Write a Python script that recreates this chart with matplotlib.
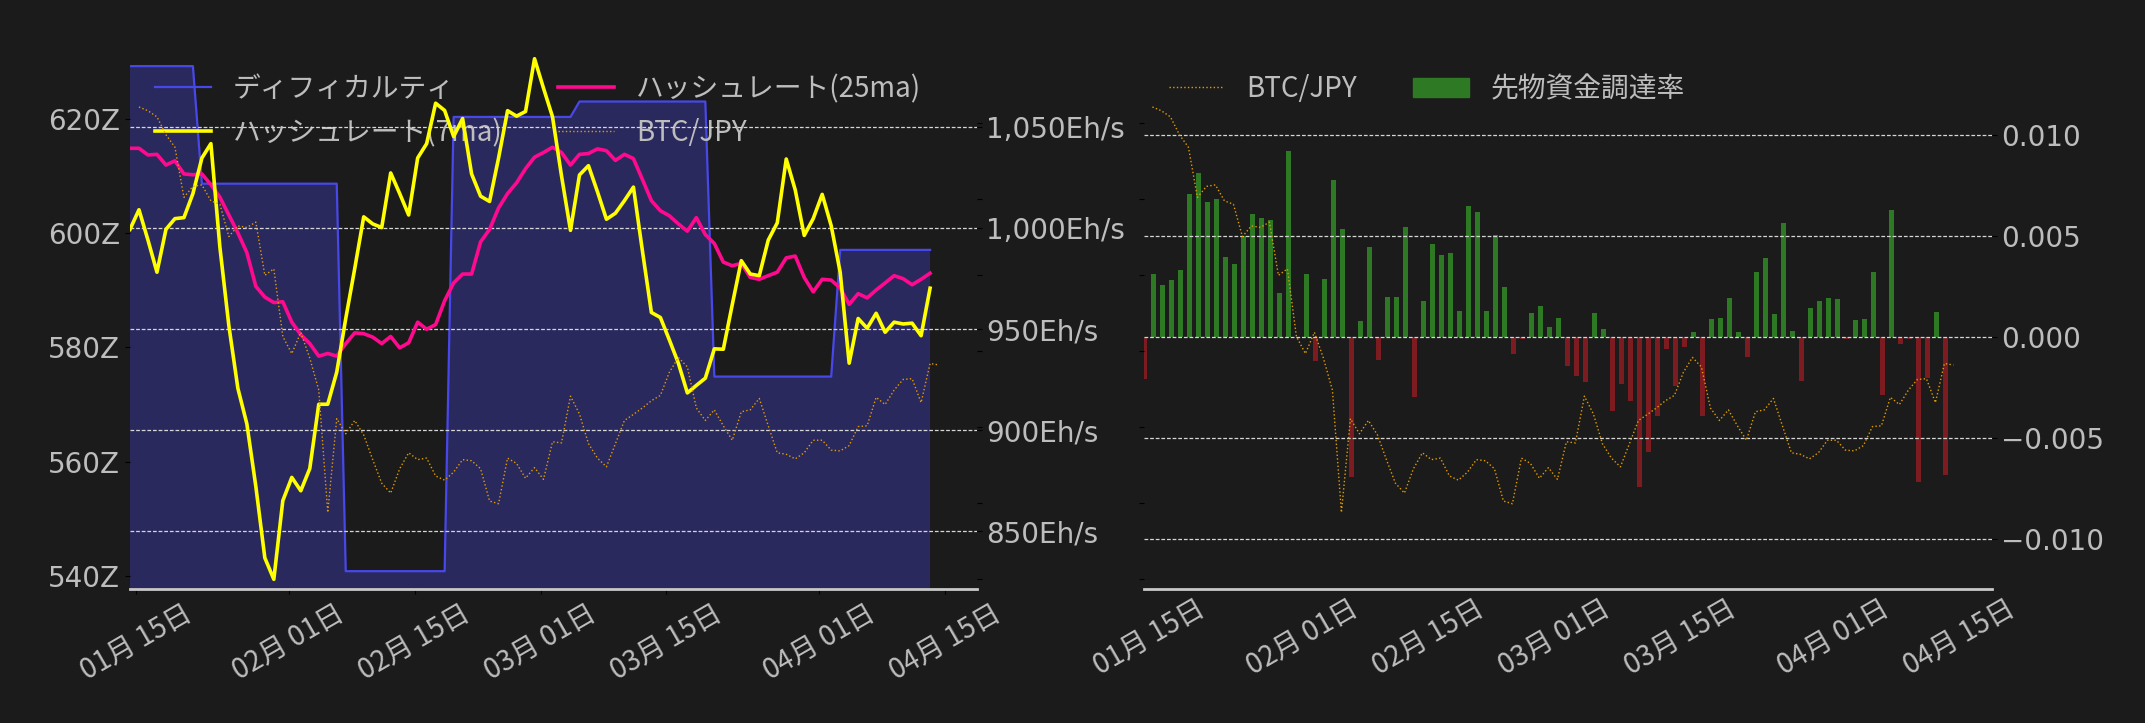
import matplotlib
matplotlib.use('Agg')
import matplotlib.pyplot as plt
import matplotlib.dates as mdates
from matplotlib.ticker import MultipleLocator, FuncFormatter
from matplotlib.patches import Patch
import pandas as pd

# y tick labels stay in DejaVu Sans, japanese text uses Noto Sans CJK JP
plt.rcParams['font.family'] = ['DejaVu Sans', 'Noto Sans CJK JP']
plt.rcParams['font.size'] = 20
JP = ['Noto Sans CJK JP', 'DejaVu Sans']

# ---- data ----
hash_dates = pd.date_range('2023-01-14 08:00', periods=90, freq='D')
btc_dates = pd.date_range('2023-01-15 08:00', periods=90, freq='D')
fr_dates = pd.date_range('2023-01-14 11:00', periods=90, freq='D')

# difficulty (Z)
difficulty = [
    629.3, 629.3, 629.3, 629.3, 629.3, 629.3, 629.3, 629.3,
    608.7, 608.7, 608.7, 608.7, 608.7, 608.7, 608.7, 608.7,
    608.7, 608.7, 608.7, 608.7, 608.7, 608.7, 608.7, 608.7,
    540.8, 540.8, 540.8, 540.8, 540.8, 540.8, 540.8, 540.8, 540.8, 540.8, 540.8, 540.8,
    620.4, 620.4, 620.4, 620.4, 620.4, 620.4, 620.4, 620.4, 620.4, 620.4, 620.4, 620.4, 620.4, 620.4,
    623.1, 623.1, 623.1, 623.1, 623.1, 623.1, 623.1, 623.1, 623.1, 623.1, 623.1, 623.1, 623.1, 623.1, 623.1,
    574.9, 574.9, 574.9, 574.9, 574.9, 574.9, 574.9, 574.9, 574.9, 574.9, 574.9, 574.9, 574.9, 574.9,
    597.1, 597.1, 597.1, 597.1, 597.1, 597.1, 597.1, 597.1, 597.1, 597.1, 597.1,
]

# hashrate, 7 day moving average (Eh/s)
hashrate_7ma = [
    999.3, 1009.0, 994.0, 978.1, 999.3, 1004.6, 1005.1, 1017.0, 1034.6, 1041.7,
    990.5, 951.6, 920.7, 903.1, 872.1, 836.8, 826.2, 865.1, 876.6, 870.0,
    881.0, 912.8, 912.8, 928.7, 955.2, 979.9, 1005.5, 1002.0, 1000.2, 1027.2,
    1017.0, 1006.4, 1034.6, 1041.7, 1061.7, 1058.1, 1045.2, 1054.1, 1026.7, 1015.7,
    1013.1, 1034.6, 1058.0, 1055.3, 1057.6, 1083.7, 1069.1, 1055.0, 1025.8, 998.8,
    1026.2, 1030.8, 1017.9, 1004.3, 1007.3, 1013.5, 1020.2, 988.7, 958.2, 955.7,
    944.6, 933.1, 918.4, 922.1, 925.7, 940.2, 940.0, 962.2, 983.8, 977.2,
    976.4, 994.0, 1002.5, 1034.1, 1018.8, 996.3, 1004.6, 1016.6, 1001.1, 978.1,
    933.1, 955.2, 950.4, 957.8, 948.4, 953.4, 952.5, 952.9, 946.7, 970.2,
]

# hashrate, 25 day moving average (Eh/s)
hashrate_25ma = [
    1039.4, 1039.4, 1036.1, 1036.4, 1031.1, 1033.2, 1026.7, 1026.3, 1026.7, 1021.4,
    1015.2, 1006.4, 997.6, 987.8, 971.1, 965.8, 963.1, 963.5, 953.4, 947.2,
    942.8, 936.6, 937.9, 936.6, 942.8, 948.1, 947.7, 946.0, 942.8, 946.3,
    940.7, 943.2, 953.4, 949.9, 952.2, 964.0, 972.8, 977.2, 977.2, 993.1,
    999.3, 1009.9, 1017.0, 1022.3, 1029.3, 1035.0, 1037.3, 1039.9, 1037.3, 1031.1,
    1036.4, 1036.8, 1039.1, 1038.2, 1033.4, 1036.4, 1034.3, 1024.0, 1013.5, 1008.5,
    1006.0, 1002.0, 998.4, 1005.1, 996.7, 992.3, 983.1, 981.3, 982.5, 975.5,
    974.6, 976.4, 978.1, 985.2, 986.1, 975.5, 968.4, 974.6, 974.2, 970.2,
    962.2, 967.5, 965.4, 969.3, 972.8, 976.4, 974.9, 971.9, 974.6, 977.6,
]

# BTC/JPY
btc_jpy = [
    5243000, 5233000, 5217000, 5170000, 5137000, 5005000, 5034000, 5038000, 4996000, 4987000,
    4902000, 4930000, 4926000, 4940000, 4800000, 4817000, 4639000, 4594000, 4650000, 4582000,
    4498000, 4176000, 4423000, 4383000, 4418000, 4380000, 4315000, 4253000, 4227000, 4291000,
    4333000, 4315000, 4319000, 4272000, 4261000, 4282000, 4315000, 4312000, 4291000, 4206000,
    4199000, 4319000, 4305000, 4266000, 4294000, 4263000, 4362000, 4359000, 4482000, 4435000,
    4357000, 4319000, 4296000, 4357000, 4418000, 4434000, 4451000, 4470000, 4484000, 4545000,
    4584000, 4559000, 4451000, 4418000, 4446000, 4404000, 4366000, 4441000, 4446000, 4476000,
    4404000, 4333000, 4329000, 4317000, 4333000, 4366000, 4366000, 4340000, 4338000, 4352000,
    4402000, 4404000, 4479000, 4460000, 4498000, 4526000, 4528000, 4465000, 4568000, 4564000,
]

# futures funding rate
funding = [
    -0.00209, 0.00313, 0.00258, 0.00283, 0.00332, 0.00709, 0.00813, 0.00668, 0.00684, 0.00396,
    0.00362, 0.00499, 0.00610, 0.00592, 0.00578, 0.00219, 0.00921, 0.00000, 0.00313, -0.00120,
    0.00288, 0.00778, 0.00536, -0.00690, 0.00080, 0.00446, -0.00111, 0.00198, 0.00198, 0.00545,
    -0.00297, 0.00179, 0.00461, 0.00407, 0.00417, 0.00129, 0.00649, 0.00619, 0.00129, 0.00506,
    0.00248, -0.00085, -0.00007, 0.00120, 0.00154, 0.00050, 0.00095, -0.00141, -0.00191, -0.00221,
    0.00120, 0.00042, -0.00368, -0.00230, -0.00318, -0.00743, -0.00571, -0.00389, -0.00060, -0.00240,
    -0.00050, 0.00025, -0.00389, 0.00090, 0.00095, 0.00194, 0.00025, -0.00099, 0.00322, 0.00392,
    0.00115, 0.00566, 0.00030, -0.00217, 0.00145, 0.00179, 0.00194, 0.00189, -0.00011, 0.00085,
    0.00090, 0.00322, -0.00285, 0.00629, -0.00032, -0.00011, -0.00716, -0.00200, 0.00124, -0.00681,
]

# ---- styles ----
BG = '#1b1b1b'
TXT = '#bdbdbd'
FILL = '#2a295e'
BLUE = '#4848e8'
PINK = '#ff0a8e'
YELLOW = '#ffff00'
ORANGE = '#e39c00'
GREEN = '#2e7a24'
RED = '#7c1c21'
GRID = dict(axis='y', color='#d6d6d6', linestyle=(0, (3, 1.5)), linewidth=0.9)

day0 = pd.Timestamp('2023-01-15')

fig = plt.figure(figsize=(21.45, 7.23), dpi=100, facecolor=BG)


def clean(ax, bottom=False):
    for s in ['top', 'left', 'right']:
        ax.spines[s].set_visible(False)
    if bottom:
        ax.spines['bottom'].set_color('#c8c8c8')
        ax.spines['bottom'].set_linewidth(2)
    else:
        ax.spines['bottom'].set_visible(False)
    ax.tick_params(labelcolor=TXT)


def date_axis(ax):
    ax.xaxis.set_major_locator(mdates.DayLocator(bymonthday=[1, 15]))
    ax.xaxis.set_major_formatter(mdates.DateFormatter('%m月 %d日'))
    ax.tick_params(axis='x', labelrotation=30, labelfontfamily=JP)


# ===== left chart: difficulty / hashrate / price =====
ax_d = fig.add_axes([0.0606, 0.1853, 0.3947, 0.7469])
ax_d.set_facecolor(BG)
ax_h = ax_d.twinx()
ax_p = ax_d.twinx()

ax_d.fill_between(hash_dates, difficulty, 500, color=FILL, lw=0)
l_diff, = ax_d.plot(hash_dates, difficulty, color=BLUE, lw=1.6)
ax_d.set_ylim(537.67, 632.3)
ax_d.yaxis.set_major_locator(MultipleLocator(20))
ax_d.yaxis.set_major_formatter(FuncFormatter(lambda v, p: f'{v:.0f}Z'))

ax_h.grid(**GRID)
l_25, = ax_h.plot(hash_dates, hashrate_25ma, color=PINK, lw=2.6)
l_7, = ax_h.plot(hash_dates, hashrate_7ma, color=YELLOW, lw=2.6)
ax_h.set_ylim(821.4, 1088.5)
ax_h.yaxis.set_major_locator(MultipleLocator(50))
ax_h.yaxis.set_major_formatter(FuncFormatter(lambda v, p: f'{v:,.0f}Eh/s'))

l_btc, = ax_p.plot(btc_dates, btc_jpy, color=ORANGE, lw=1.0, ls=':')
ax_p.set_ylim(3974500, 5395500)
ax_p.yaxis.set_major_locator(MultipleLocator(200000))
ax_p.tick_params(axis='y', labelright=False)

for a in (ax_d, ax_h, ax_p):
    clean(a, bottom=(a is ax_d))
ax_d.set_xlim(pd.Timestamp('2023-01-14 08:00'), day0 + pd.Timedelta(days=93.51))
date_axis(ax_d)

ax_d.legend([l_diff, l_7, l_25, l_btc],
            ['ディフィカルティ', 'ハッシュレート(7ma)', 'ハッシュレート(25ma)', 'BTC/JPY'],
            ncol=2, loc='upper left', frameon=False, labelcolor=TXT,
            prop={'family': JP, 'size': 20})

# ===== right chart: funding rate / price =====
ax_f = fig.add_axes([0.5333, 0.1853, 0.3952, 0.7469])
ax_f.set_facecolor(BG)
ax_b = ax_f.twinx()

ax_f.grid(**GRID)
bar_colors = [GREEN if v >= 0 else RED for v in funding]
ax_f.bar(fr_dates, funding, width=0.6, color=bar_colors)
ax_f.set_ylim(-0.01247, 0.01426)
ax_f.yaxis.set_major_locator(MultipleLocator(0.005))
ax_f.yaxis.set_major_formatter(
    FuncFormatter(lambda v, p: f'{v:.3f}'.replace('-', '\u2212')))
ax_f.yaxis.tick_right()

r_btc, = ax_b.plot(btc_dates, btc_jpy, color=ORANGE, lw=1.0, ls=':')
ax_b.set_ylim(3974500, 5395500)
ax_b.yaxis.set_major_locator(MultipleLocator(200000))
ax_b.yaxis.tick_left()
ax_b.tick_params(axis='y', labelleft=False, labelright=False)

for a in (ax_f, ax_b):
    clean(a, bottom=(a is ax_f))
ax_f.set_xlim(day0 - pd.Timedelta(days=0.61), day0 + pd.Timedelta(days=93.58))
date_axis(ax_f)
ax_f.tick_params(axis='x', length=0)

ax_b.legend([r_btc, Patch(color=GREEN)], ['BTC/JPY', '先物資金調達率'],
            ncol=2, loc='upper left', frameon=False, labelcolor=TXT,
            prop={'family': JP, 'size': 20})

fig.savefig('out.png', dpi=100, facecolor=BG)
